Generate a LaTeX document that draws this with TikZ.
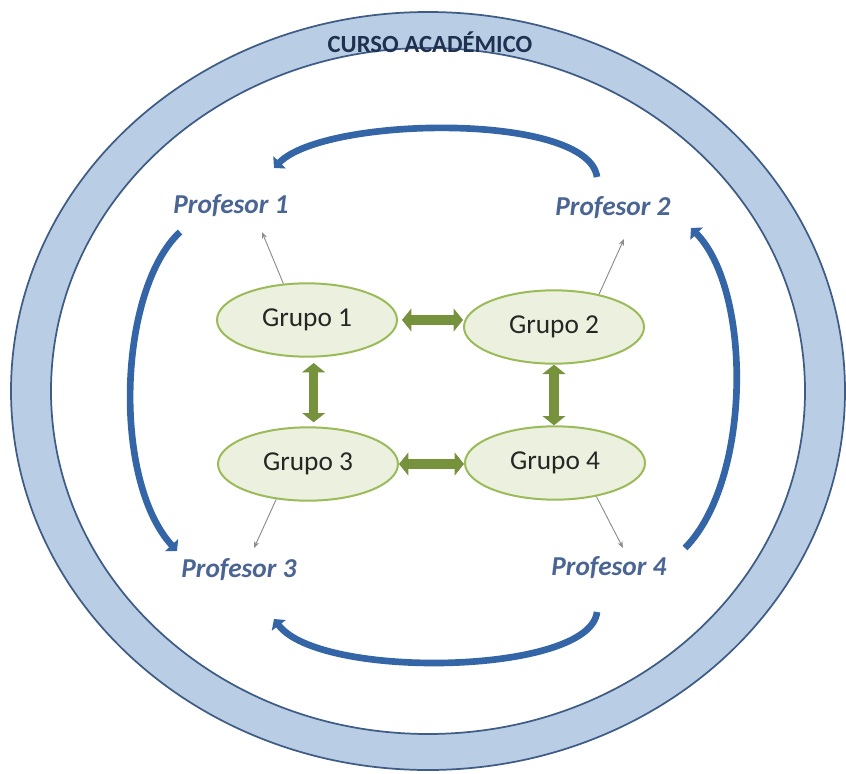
\documentclass[tikz,border=0pt]{standalone}
\usepackage{fontspec}
\setmainfont{Carlito}
\usetikzlibrary{arrows.meta,shapes.geometric}
\definecolor{ringfill}{HTML}{B9CDE5}
\definecolor{ringedge}{HTML}{3E5C85}
\definecolor{titlecol}{HTML}{1F3050}
\definecolor{profcol}{HTML}{4A6593}
\definecolor{bluearr}{HTML}{3465A7}
\definecolor{grpfill}{HTML}{EBF1DE}
\definecolor{grpedge}{HTML}{9BBB59}
\definecolor{grparr}{HTML}{76923C}
\definecolor{thinarr}{HTML}{8C8C8C}
\begin{document}
\begin{tikzpicture}[x=0.75pt,y=-0.75pt,
  grupo/.style={ellipse, draw=grpedge, line width=1.5pt, fill=grpfill,
    minimum width=135pt, minimum height=55pt, inner sep=0pt,
    text=black!85, font=\fontsize{20.5}{24}\selectfont},
  prof/.style={text=profcol, font=\fontsize{20.5}{24}\selectfont\bfseries\itshape},
  cycarrow/.style={draw=bluearr, line width=5pt,
    -{Triangle[width=13pt,length=6pt]}},
  garrow/.style={draw=grparr, line width=7pt,
    {Triangle[width=17pt,length=7pt]}-{Triangle[width=17pt,length=7pt]}},
  tarrow/.style={draw=thinarr, line width=0.7pt, -{Stealth[length=5pt,width=4pt]}}
]
\useasboundingbox (0,0) rectangle (846,774);
% ring
\path[fill=ringfill, draw=ringedge, line width=1.3pt, even odd rule]
  (428,391) ellipse [x radius=417, y radius=379]
  (428,391) ellipse [x radius=377, y radius=343];
\node[text=titlecol, font=\fontsize{18.5}{22}\selectfont\bfseries] (title) at (430,42) {CURSO ACADÉMICO};
% professors
\node[prof] (p1) at (231,206) {Profesor 1};
\node[prof] (p2) at (613,208) {Profesor 2};
\node[prof] (p3) at (239,570) {Profesor 3};
\node[prof] (p4) at (609,568) {Profesor 4};
% groups
\node[grupo] (g1) at (307,320) {Grupo 1};
\node[grupo] (g2) at (554,327) {Grupo 2};
\node[grupo] (g3) at (308,464) {Grupo 3};
\node[grupo] (g4) at (555,463) {Grupo 4};
% curved arrow endpoints
\coordinate (a2s) at (597,177);
\coordinate (a1e) at (274,168);
\coordinate (b1s) at (180,232);
\coordinate (b3e) at (177,551);
\coordinate (c4s) at (685,548);
\coordinate (c2e) at (691,228);
\coordinate (d4s) at (597,612);
\coordinate (d3e) at (274,619);
\draw[cycarrow] (a2s) .. controls (588,112) and (325,116) .. (a1e);
\draw[cycarrow] (b1s) .. controls (118,290) and (112,480) .. (b3e);
\draw[cycarrow] (c4s) .. controls (752,480) and (752,290) .. (c2e);
\draw[cycarrow] (d4s) .. controls (590,675) and (320,680) .. (d3e);
% thin arrows group -> professor
\coordinate (t1) at (262,232);
\coordinate (t2) at (624,239);
\coordinate (t3) at (254,548);
\coordinate (t4) at (623,548);
\draw[tarrow] (g1.123) -- (t1);
\draw[tarrow] (g2.36) -- (t2);
\draw[tarrow] (g3.228) -- (t3);
\draw[tarrow] (g4.321) -- (t4);
% green double arrows
\draw[garrow, shorten <=3pt] (g1.east) -- (g1.east -| g2.west);
\draw[garrow] (g3.east) -- (g3.east -| g4.west);
\draw[garrow, shorten <=4pt, shorten >=3pt] ([xshift=5pt]g1.south) -- ([xshift=5pt]g1.south |- g3.north);
\draw[garrow] (g2.south) -- (g2.south |- g4.north);
\end{tikzpicture}
\end{document}
